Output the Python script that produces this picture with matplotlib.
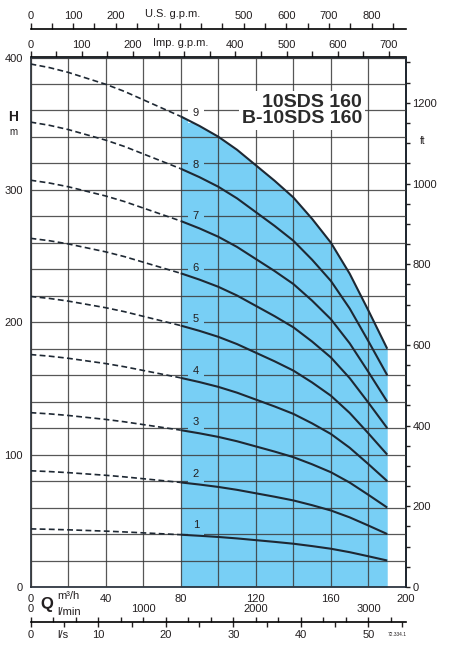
import numpy as np
import matplotlib.pyplot as plt
from matplotlib.ticker import MultipleLocator, FixedLocator

plt.rcParams['font.family'] = ['Liberation Sans', 'DejaVu Sans']
plt.rcParams['font.size'] = 8

### data
q_m3h = [0, 10, 20, 30, 40, 50, 60, 70, 80, 90, 100, 110, 120, 130, 140, 150, 160, 170, 180, 190]
head_stage = [43.9, 43.6, 43.2, 42.7, 42.2, 41.6, 40.9, 40.2, 39.5, 38.7, 37.8, 36.7,
              35.4, 34.1, 32.7, 30.9, 28.9, 26.3, 23.2, 20.0]
stages = [1, 2, 3, 4, 5, 6, 7, 8, 9]
q_min = 80    # start of working range
title = "10SDS 160\nB-10SDS 160"

x_m3h_ticks = [0, 40, 80, 120, 160, 200]
y_m_ticks = [0, 100, 200, 300, 400]
imp_ticks = [0, 100, 200, 400, 500, 600, 700]
us_ticks = [0, 100, 200, 500, 600, 700, 800]
ft_ticks = [0, 200, 400, 600, 800, 1000, 1200]
lmin_ticks = [0, 1000, 2000, 3000]
ls_ticks = [0, 10, 20, 30, 40, 50]

# unit factors
IMP = 3.6662
US = 4.4029
LS = 1 / 3.6
FT = 1 / 0.3048

FILL = '#78cff5'
LINE = '#1e2833'
TXT = '#231f20'
W, H = 449, 647

def fx(px):
    return px / W

def fy(py):
    return 1 - py / H

fig = plt.figure(figsize=(W / 100, H / 100), dpi=100)
left, right, top, bottom = 30.5, 406, 57.5, 587
ax = fig.add_axes([fx(left), fy(bottom), fx(right - left), (bottom - top) / H])
ax.set_xlim(0, 200)
ax.set_ylim(0, 400)

q = np.array(q_m3h, dtype=float)
h1 = np.array(head_stage)
work = q >= q_min
dash = q <= q_min

# shaded working field under the largest pump
top_curve = h1 * max(stages)
ax.fill_between(q[work], 0, top_curve[work], color=FILL, lw=0, zorder=1)

for n in stages:
    ax.plot(q[dash], h1[dash] * n, color=LINE, lw=1.2, ls=(0, (3.5, 2)), zorder=3)
    ax.plot(q[work], h1[work] * n, color=LINE, lw=1.5, zorder=3,
            solid_capstyle='butt', solid_joinstyle='round')
    ylab = np.interp(88, q, h1) * n + 8
    face = 'white' if n == max(stages) else FILL
    ax.text(88, ylab, str(n), ha='center', va='center', fontsize=8, color=TXT,
            zorder=2.8, bbox=dict(boxstyle='square,pad=0.45', fc=face, ec='none'))

ax.text(176.6, 360, title, ha='right', va='center', fontsize=14, fontweight='bold',
        color='#2b2b2b', linespacing=0.95, zorder=5,
        bbox=dict(boxstyle='square,pad=0.15', fc='white', ec='none'))

# grid
ax.set_axisbelow(False)
ax.xaxis.set_major_locator(FixedLocator(x_m3h_ticks))
ax.xaxis.set_minor_locator(MultipleLocator(20))
ax.yaxis.set_major_locator(FixedLocator(y_m_ticks))
ax.yaxis.set_minor_locator(MultipleLocator(20))
ax.grid(which='both', color='#3a3a3a', lw=0.9, alpha=0.85)
ax.tick_params(which='both', length=0, labelsize=8, colors=TXT)
ax.tick_params(axis='x', pad=5)
ax.tick_params(axis='y', pad=5.5)
for s in ax.spines.values():
    s.set_linewidth(1.2)
    s.set_color(LINE)

# Imp. g.p.m. on top of the frame
ax_imp = ax.secondary_xaxis('top', functions=(lambda v: v * IMP, lambda v: v / IMP))
ax_imp.xaxis.set_major_locator(FixedLocator(imp_ticks))
ax_imp.xaxis.set_minor_locator(MultipleLocator(50))
ax_imp.tick_params(which='both', direction='out', length=4, width=1, pad=1.5,
                   labelsize=8, colors=TXT)
ax_imp.spines['top'].set_linewidth(1.2)

# ft on the right
ax_ft = ax.secondary_yaxis('right', functions=(lambda v: v * FT, lambda v: v / FT))
ax_ft.yaxis.set_major_locator(FixedLocator(ft_ticks))
ax_ft.yaxis.set_minor_locator(MultipleLocator(50))
ax_ft.tick_params(which='both', direction='out', length=3, width=1, pad=1.5,
                  labelsize=8, colors=TXT)
ax_ft.spines['right'].set_linewidth(1.2)

# U.S. g.p.m. line
ax_us = fig.add_axes([fx(left), fy(29), fx(right - left), 1e-4])
ax_us.set_xlim(0, 200 * US)
ax_us.patch.set_visible(False)
for k in ['left', 'right', 'bottom']:
    ax_us.spines[k].set_visible(False)
ax_us.spines['top'].set_linewidth(1.2)
ax_us.set_yticks([])
ax_us.xaxis.set_ticks_position('top')
ax_us.xaxis.set_major_locator(FixedLocator(us_ticks))
ax_us.xaxis.set_minor_locator(MultipleLocator(50))
ax_us.tick_params(which='both', direction='out', length=4, width=1, pad=2,
                  labelsize=8, colors=TXT, labeltop=True, labelbottom=False)

# l/s and l/min line below
ax_q = fig.add_axes([fx(left), fy(622), fx(right - left), 1e-4])
ax_q.set_xlim(0, 200 * LS)
ax_q.patch.set_visible(False)
for k in ['left', 'right', 'top']:
    ax_q.spines[k].set_visible(False)
ax_q.spines['bottom'].set_linewidth(1.2)
ax_q.set_yticks([])
ax_q.xaxis.set_major_locator(FixedLocator(ls_ticks))
ax_q.xaxis.set_minor_locator(MultipleLocator(5))
ax_q.tick_params(which='both', direction='out', length=3.5, width=1, pad=2,
                 labelsize=8, colors=TXT)
ax_lmin = ax_q.secondary_xaxis('top', functions=(lambda v: v * 60, lambda v: v / 60))
ax_lmin.spines['top'].set_visible(False)
ax_lmin.xaxis.set_major_locator(FixedLocator(lmin_ticks))
ax_lmin.xaxis.set_minor_locator(MultipleLocator(200))
ax_lmin.tick_params(which='both', direction='out', length=3.5, width=1, pad=2,
                    labelsize=8, colors=TXT)

# axis titles
fig.text(fx(173), fy(14), 'U.S. g.p.m.', ha='center', va='center', fontsize=8, color=TXT)
fig.text(fx(181), fy(43), 'Imp. g.p.m.', ha='center', va='center', fontsize=8, color=TXT)
fig.text(fx(13), fy(117), 'H', ha='center', va='center', fontsize=10, fontweight='bold', color=TXT)
fig.text(fx(13), fy(132), 'm', ha='center', va='center', fontsize=7, color=TXT)
fig.text(fx(423), fy(141), 'ft', ha='center', va='center', fontsize=7, color=TXT)
fig.text(fx(47), fy(604), 'Q', ha='center', va='center', fontsize=12, fontweight='bold', color=TXT)
fig.text(fx(57), fy(596), 'm³/h', ha='left', va='center', fontsize=8, color=TXT)
fig.text(fx(57), fy(612), 'l/min', ha='left', va='center', fontsize=8, color=TXT)
fig.text(fx(57), fy(635), 'l/s', ha='left', va='center', fontsize=8, color=TXT)
fig.text(fx(397), fy(634), '72.334.1', ha='center', va='center', fontsize=3.5, color=TXT)

fig.savefig('out.png', dpi=100)
